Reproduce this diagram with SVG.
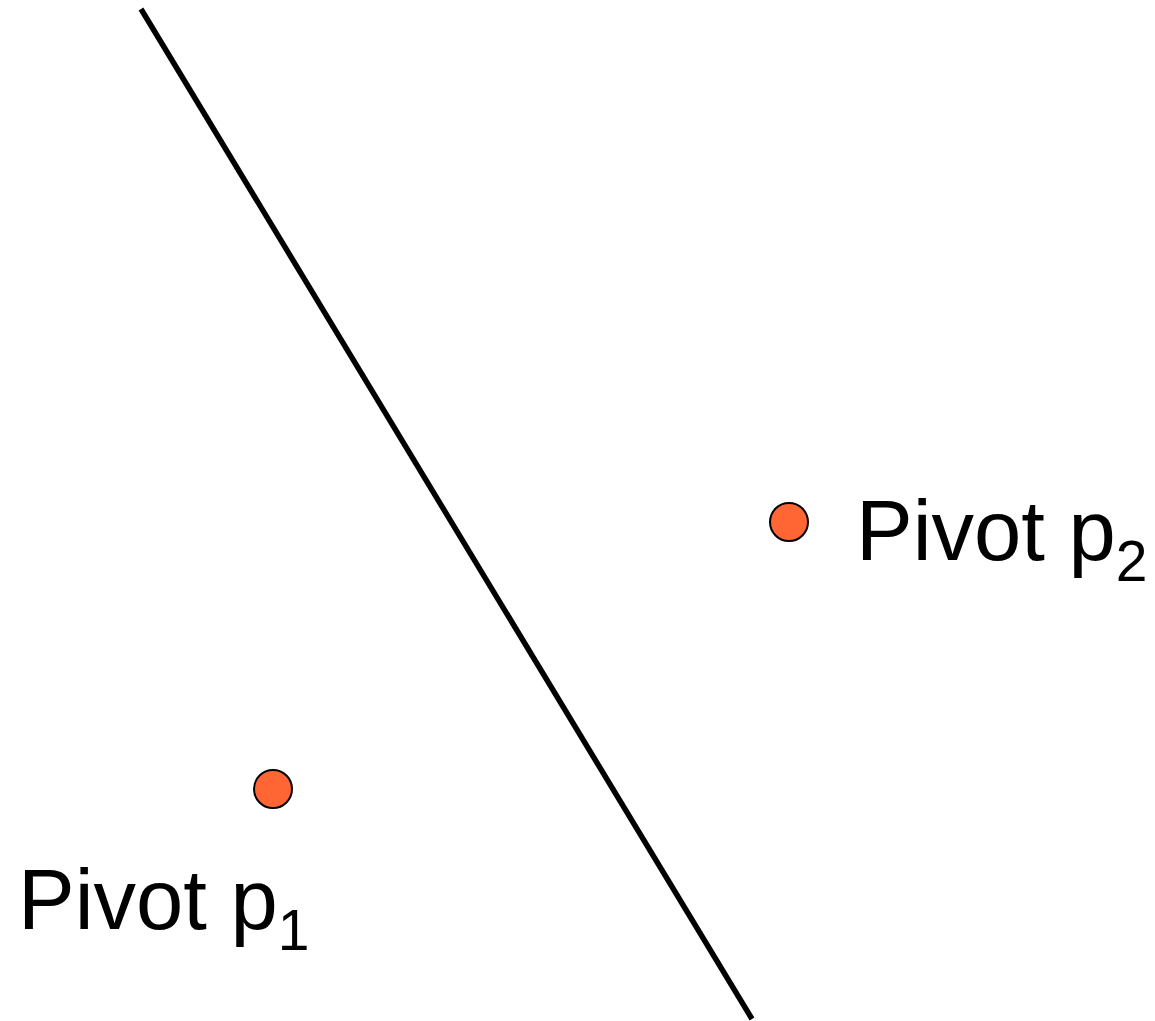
<svg xmlns="http://www.w3.org/2000/svg" width="1155" height="1021" viewBox="0 0 1155 1021">
<style>
.pivot{fill:#FF6633;stroke:#000;stroke-width:2}
.lbl{font-family:"Liberation Sans",Arial,sans-serif;font-size:85px;fill:#000}
.sub{font-size:57px}
</style>
<rect width="1155" height="1021" fill="#fff"/>
<g id="connectors">
<line x1="141" y1="9" x2="752" y2="1019" stroke="#000" stroke-width="5.5"/>
</g>
<g id="p2">
<circle class="pivot" cx="789" cy="522" r="19"/>
<text class="lbl" x="856" y="560">Pivot p<tspan class="sub" dy="21">2</tspan></text>
</g>
<g id="p1">
<circle class="pivot" cx="273" cy="789" r="19"/>
<text class="lbl" x="18" y="929">Pivot p<tspan class="sub" dy="21">1</tspan></text>
</g>
</svg>
